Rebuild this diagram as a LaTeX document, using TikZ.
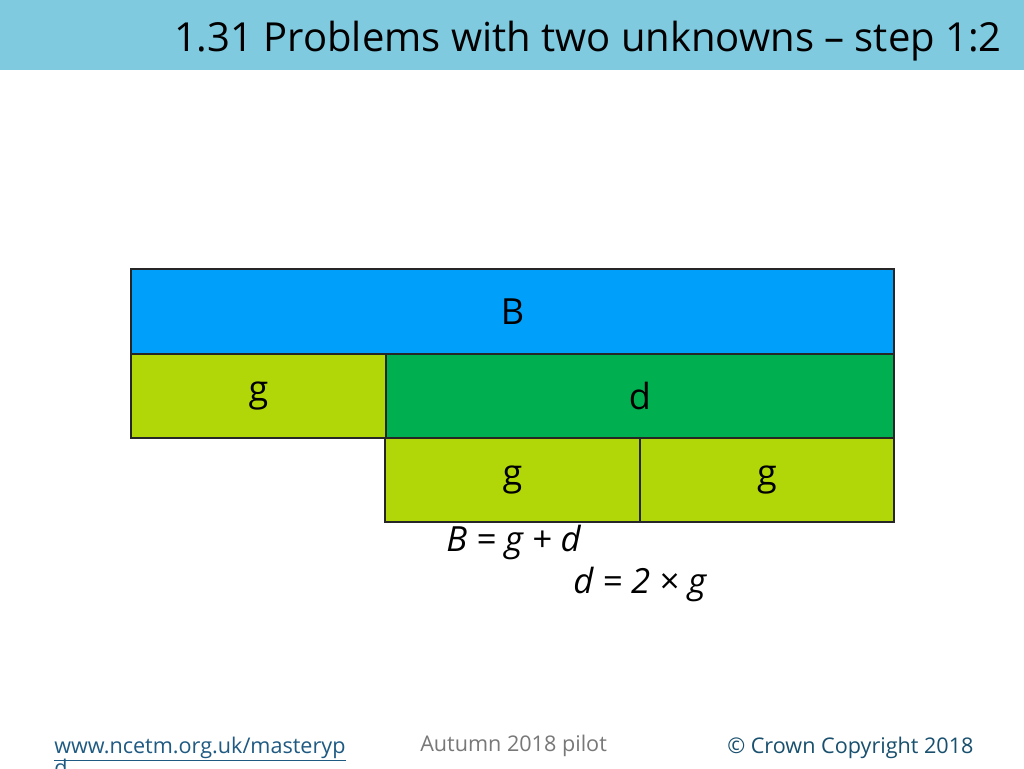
\documentclass[tikz,border=0pt]{standalone}
\usepackage{fontspec}
\setmainfont{Open Sans}
\definecolor{hdr}{RGB}{128,202,224}
\definecolor{bblue}{RGB}{0,160,250}
\definecolor{lgreen}{RGB}{178,215,8}
\definecolor{dgreen}{RGB}{0,176,80}
\definecolor{linkc}{RGB}{31,90,130}
\definecolor{copyc}{RGB}{25,80,110}
\definecolor{grayc}{RGB}{120,120,120}
\tikzset{
  bar/.style={draw=black!85, line width=1.5pt, inner sep=0pt, font=\fontsize{27}{31}\selectfont},
  eq/.style={font=\fontsize{26}{30}\selectfont\itshape, inner sep=0pt, anchor=base west},
  foot/.style={font=\fontsize{16.2}{19}\selectfont, inner sep=0pt, anchor=base west}
}
\begin{document}
\begin{tikzpicture}[x=0.75pt,y=-0.75pt]
\useasboundingbox (0,0) rectangle (1024,768);
\fill[white] (0,0) rectangle (1024,768);
\fill[hdr] (0,0) rectangle (1024,70);
\node[inner sep=0pt, anchor=base east, font=\fontsize{30}{34}\selectfont] (title) at (1002,51) {1.31 Problems with two unknowns – step 1:2};
% bars
\node[bar, fill=bblue, minimum width=763*0.75pt, minimum height=85*0.75pt, anchor=north west] (B) at (130,268) {B};
\node[bar, fill=lgreen, minimum width=255*0.75pt, minimum height=84*0.75pt, anchor=north west] (g1) at (130,353) {g};
\node[bar, fill=dgreen, minimum width=508*0.75pt, minimum height=84*0.75pt, anchor=north west] (d) at (385,353) {d};
\node[bar, fill=lgreen, minimum width=255*0.75pt, minimum height=84*0.75pt, anchor=north west] (g2) at (384,437) {g};
\node[bar, fill=lgreen, minimum width=254*0.75pt, minimum height=84*0.75pt, anchor=north west] (g3) at (639,437) {g};
% equations
\node[eq] (eq1) at (446,551) {B = g + d};
\node[eq] (eq2) at (573,593) {d = 2 × g};
% footer
\node[foot, text=linkc] (link) at (54,753) {\underline{www.ncetm.org.uk/masteryp}};
\node[foot, text=linkc] (link2) at (54,775) {\underline{d}};
\node[foot, text=grayc] (pilot) at (420,751) {Autumn 2018 pilot};
\node[foot, text=copyc] (copy) at (727,753) {© Crown Copyright 2018};
\end{tikzpicture}
\end{document}
